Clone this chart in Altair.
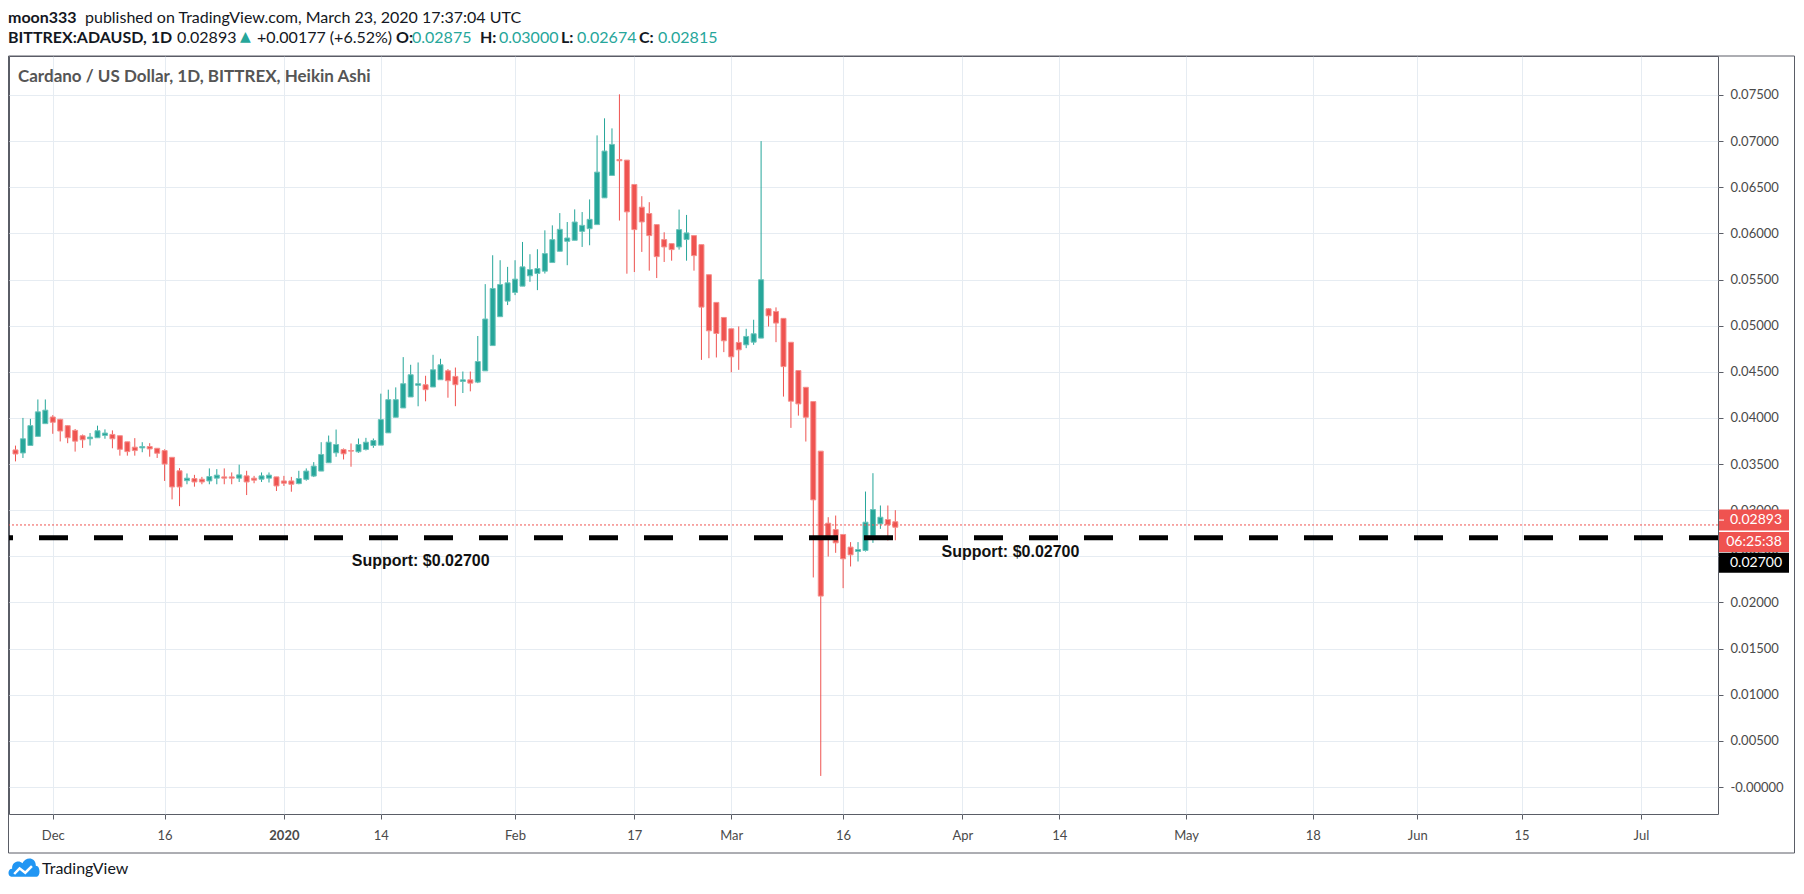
import altair as alt
import pandas as pd

# ---------------- data (Heikin Ashi candles, day 0 = 2019-12-01) ----------------
first_day = -5  # 2019-11-26
opens = [0.03653, 0.03620, 0.03701, 0.03800, 0.03938, 0.04010, 0.03985, 0.03916, 0.03865, 0.03807,
         0.03774, 0.03785, 0.03810, 0.03821, 0.03807, 0.03741, 0.03683, 0.03675, 0.03690, 0.03671,
         0.03646, 0.03573, 0.03427, 0.03320, 0.03343, 0.03336, 0.03317, 0.03347, 0.03361, 0.03361,
         0.03347, 0.03372, 0.03347, 0.03336, 0.03347, 0.03361, 0.03317, 0.03317, 0.03288, 0.03334,
         0.03370, 0.03424, 0.03514, 0.03622, 0.03658, 0.03647, 0.03633, 0.03658, 0.03701, 0.03705,
         0.03838, 0.04007, 0.04108, 0.04227, 0.04353, 0.04360, 0.04335, 0.04414, 0.04511, 0.04450,
         0.04395, 0.04413, 0.04388, 0.04510, 0.04784, 0.05097, 0.05266, 0.05360, 0.05428, 0.05540,
         0.05565, 0.05590, 0.05684, 0.05806, 0.05914, 0.05925, 0.06022, 0.06051, 0.06095, 0.06385,
         0.06628, 0.06801, 0.06794, 0.06530, 0.06284, 0.06215, 0.06095, 0.05933, 0.05889, 0.05853,
         0.05933, 0.05976, 0.05878, 0.05552, 0.05252, 0.05089, 0.04966, 0.04818, 0.04792, 0.04821,
         0.04865, 0.05183, 0.05154, 0.05079, 0.04820, 0.04513, 0.04332, 0.04177, 0.03640, 0.02859,
         0.02791, 0.02737, 0.02600, 0.02552, 0.02563, 0.02718, 0.02852, 0.02899, 0.02875]
highs = [0.03700, 0.04000, 0.03990, 0.04200, 0.04200, 0.04030, 0.03990, 0.03920, 0.03880, 0.03820,
         0.03836, 0.03916, 0.03876, 0.03865, 0.03807, 0.03741, 0.03781, 0.03737, 0.03726, 0.03671,
         0.03660, 0.03573, 0.03456, 0.03398, 0.03383, 0.03361, 0.03453, 0.03445, 0.03453, 0.03409,
         0.03493, 0.03427, 0.03372, 0.03409, 0.03409, 0.03361, 0.03372, 0.03361, 0.03427, 0.03453,
         0.03521, 0.03737, 0.03809, 0.03874, 0.03669, 0.03723, 0.03777, 0.03784, 0.03777, 0.04263,
         0.04306, 0.04331, 0.04659, 0.04576, 0.04601, 0.04457, 0.04684, 0.04641, 0.04529, 0.04546,
         0.04503, 0.04503, 0.04888, 0.05450, 0.05763, 0.05709, 0.05637, 0.05709, 0.05907, 0.05774,
         0.05828, 0.06033, 0.06087, 0.06220, 0.06123, 0.06260, 0.06231, 0.06368, 0.07062, 0.07247,
         0.07138, 0.07507, 0.06794, 0.06530, 0.06403, 0.06338, 0.06095, 0.06012, 0.05889, 0.06258,
         0.06200, 0.05976, 0.05878, 0.05552, 0.05252, 0.05089, 0.04966, 0.04991, 0.04966, 0.05064,
         0.07000, 0.05190, 0.05198, 0.05079, 0.04820, 0.04513, 0.04332, 0.04177, 0.03640, 0.02924,
         0.02942, 0.02737, 0.02654, 0.02654, 0.03202, 0.03401, 0.03051, 0.03051, 0.03000]
lows = [0.03529, 0.03566, 0.03701, 0.03800, 0.03938, 0.03828, 0.03745, 0.03726, 0.03635, 0.03675,
        0.03701, 0.03785, 0.03774, 0.03671, 0.03591, 0.03591, 0.03591, 0.03628, 0.03580, 0.03566,
        0.03317, 0.03117, 0.03044, 0.03281, 0.03255, 0.03281, 0.03281, 0.03281, 0.03281, 0.03281,
        0.03306, 0.03164, 0.03292, 0.03306, 0.03300, 0.03208, 0.03263, 0.03200, 0.03281, 0.03320,
        0.03359, 0.03424, 0.03514, 0.03579, 0.03550, 0.03471, 0.03622, 0.03647, 0.03676, 0.03705,
        0.03838, 0.04007, 0.04108, 0.04227, 0.04126, 0.04180, 0.04335, 0.04414, 0.04219, 0.04127,
        0.04270, 0.04288, 0.04377, 0.04510, 0.04784, 0.05097, 0.05223, 0.05331, 0.05428, 0.05475,
        0.05385, 0.05565, 0.05684, 0.05806, 0.05655, 0.05925, 0.05853, 0.05871, 0.06095, 0.06385,
        0.06628, 0.06139, 0.05563, 0.05581, 0.05799, 0.05596, 0.05516, 0.05690, 0.05704, 0.05824,
        0.05704, 0.05596, 0.04629, 0.04647, 0.04655, 0.04713, 0.04495, 0.04521, 0.04756, 0.04792,
        0.04865, 0.04991, 0.04821, 0.04231, 0.03892, 0.04025, 0.03744, 0.02271, 0.00120, 0.02498,
        0.02538, 0.02155, 0.02390, 0.02444, 0.02552, 0.02646, 0.02798, 0.02672, 0.02674]
closes = [0.03609, 0.03774, 0.03916, 0.04066, 0.04084, 0.03953, 0.03858, 0.03785, 0.03748, 0.03763,
          0.03792, 0.03861, 0.03836, 0.03774, 0.03660, 0.03635, 0.03646, 0.03690, 0.03664, 0.03617,
          0.03500, 0.03252, 0.03252, 0.03347, 0.03306, 0.03306, 0.03365, 0.03380, 0.03347, 0.03347,
          0.03383, 0.03306, 0.03325, 0.03372, 0.03380, 0.03263, 0.03292, 0.03281, 0.03343, 0.03424,
          0.03478, 0.03604, 0.03737, 0.03712, 0.03611, 0.03640, 0.03712, 0.03737, 0.03755, 0.03982,
          0.04198, 0.04198, 0.04371, 0.04468, 0.04371, 0.04306, 0.04522, 0.04576, 0.04403, 0.04360,
          0.04413, 0.04377, 0.04611, 0.05072, 0.05403, 0.05446, 0.05464, 0.05504, 0.05637, 0.05608,
          0.05619, 0.05781, 0.05932, 0.06044, 0.05950, 0.06123, 0.06087, 0.06152, 0.06664, 0.06892,
          0.06964, 0.06787, 0.06233, 0.06041, 0.06124, 0.05976, 0.05748, 0.05853, 0.05824, 0.06041,
          0.06005, 0.05759, 0.05201, 0.04944, 0.04915, 0.04836, 0.04662, 0.04738, 0.04883, 0.04912,
          0.05498, 0.05107, 0.05028, 0.04556, 0.04181, 0.04152, 0.04007, 0.03112, 0.02069, 0.02718,
          0.02646, 0.02473, 0.02516, 0.02574, 0.02870, 0.03007, 0.02924, 0.02841, 0.02815]

tick_days = [0, 15, 31, 44, 62, 78, 91, 106, 122, 135, 152, 169, 183, 197, 213]
tick_labels = ["Dec", "16", "2020", "14", "Feb", "17", "Mar", "16", "Apr", "14", "May", "18", "Jun", "15", "Jul"]
price_ticks = [0.0, 0.005, 0.01, 0.015, 0.02, 0.025, 0.03, 0.035, 0.04, 0.045, 0.05, 0.055, 0.06, 0.065, 0.07, 0.075]

support_level = 0.027
last_price = 0.02893
price_line_level = 0.0284
support_text = "Support: $0.02700"
support_days = [40.1, 119.2]
support_vals = [0.02449, 0.02547]

# ---------------- style ----------------
UP = "#26a69a"
DOWN = "#ef5350"
UP_EDGE = "#6cc4bb"
DOWN_EDGE = "#f58f8c"
GRID = "#e6ecf2"
FRAME = "#5a5d66"
FONT = "Lato"

W, H = 1709, 758

df = pd.DataFrame({
    "day": list(range(first_day, first_day + len(opens))),
    "open": opens, "high": highs, "low": lows, "close": closes,
})
df["dir"] = ["up" if c >= o else "down" for o, c in zip(df["open"], df["close"])]

label_expr = " : ".join(f"datum.value == {d} ? '{l}'" for d, l in zip(tick_days, tick_labels)) + " : ''"

xscale = alt.Scale(domain=[-5.2, 222.667], nice=False, zero=False)
yscale = alt.Scale(domain=[-0.002926, 0.079224], nice=False, zero=False)

xaxis = alt.Axis(values=tick_days, labelExpr=label_expr, title=None, grid=True, gridColor=GRID,
                 domain=False, tickColor=FRAME, tickSize=5, labelPadding=10, labelFont=FONT,
                 labelFontSize=13, labelColor="#4a4a4a", zindex=0,
                 labelFontWeight={"condition": {"test": "datum.value == 31", "value": "bold"}, "value": "normal"})
yaxis = alt.Axis(orient="right", values=price_ticks, title=None, grid=True, gridColor=GRID,
                 domain=False, tickColor=FRAME, tickSize=5, labelPadding=7, labelFont=FONT,
                 labelFontSize=13, labelColor="#4a4a4a", zindex=0,
                 labelExpr="datum.value == 0 ? '-0.00000' : format(datum.value, '.5f')")

color = alt.Color("dir:N", scale=alt.Scale(domain=["up", "down"], range=[UP, DOWN]), legend=None)
edge = alt.Stroke("dir:N", scale=alt.Scale(domain=["up", "down"], range=[UP_EDGE, DOWN_EDGE]), legend=None)

base = alt.Chart(df)
wicks = base.mark_rule(strokeWidth=1, clip=True).encode(
    x=alt.X("day:Q", scale=xscale, axis=xaxis),
    y=alt.Y("low:Q", scale=yscale, axis=yaxis),
    y2="high:Q",
    color=color,
)
bodies = base.mark_bar(size=5, strokeWidth=1, clip=True).encode(
    x="day:Q", y="open:Q", y2="close:Q", color=color, stroke=edge,
)

levels = pd.DataFrame({"v": [support_level], "p": [price_line_level], "lp": [last_price]})
lv = alt.Chart(levels)
price_line = lv.mark_rule(color=DOWN, strokeWidth=1, strokeDash=[2, 2]).encode(y="p:Q")
support_line = lv.mark_rule(color="black", strokeWidth=5, strokeDash=[29, 26]).encode(y="v:Q")

ann = pd.DataFrame({"day": support_days, "val": support_vals, "t": [support_text] * 2})
support_labels = alt.Chart(ann).mark_text(align="left", baseline="middle", font="Liberation Sans",
                                          fontWeight="bold", fontSize=16, color="#111").encode(
    x="day:Q", y="val:Q", text="t:N")

# right-axis price boxes
BX0, BX1 = 1710, 1780
box_price = lv.mark_rect(color=DOWN, yOffset=-10.5, y2Offset=10.5, clip=False).encode(
    x=alt.value(BX0), x2=alt.value(BX1), y="lp:Q", y2="lp:Q")
box_count = lv.mark_rect(color=DOWN, yOffset=12, y2Offset=32, clip=False).encode(
    x=alt.value(BX0), x2=alt.value(BX1), y="lp:Q", y2="lp:Q")
box_support = lv.mark_rect(color="black", yOffset=15, y2Offset=35, clip=False).encode(
    x=alt.value(BX0), x2=alt.value(BX1), y="v:Q", y2="v:Q")
tick_white = lv.mark_rule(color="white", strokeWidth=1).encode(
    x=alt.value(BX0), x2=alt.value(BX0 + 5), y="lp:Q")
txt_price = lv.mark_text(color="white", font=FONT, fontSize=14, align="center", baseline="middle").encode(
    x=alt.value((BX0 + BX1) / 2 + 2), y="lp:Q", text=alt.value(f"{last_price:.5f}"))
txt_count = lv.mark_text(color="white", font=FONT, fontSize=14, align="center", baseline="middle", dy=22).encode(
    x=alt.value((BX0 + BX1) / 2), y="lp:Q", text=alt.value("06:25:38"))
txt_support = lv.mark_text(color="white", font=FONT, fontSize=14, align="center", baseline="middle", dy=25).encode(
    x=alt.value((BX0 + BX1) / 2 + 2), y="v:Q", text=alt.value(f"{support_level:.5f}"))

one = pd.DataFrame({"a": [0]})


def txt(s, x, y, size=16, weight="normal", col="#131722", font=FONT):
    return alt.Chart(one).mark_text(align="left", baseline="middle", font=font, fontSize=size,
                                    fontWeight=weight, color=col, clip=False).encode(
        x=alt.value(x), y=alt.value(y), text=alt.value(s))


L1, L2 = -38, -18
header = [
    txt("moon333", -1, L1, weight="bold"),
    txt("published on TradingView.com, March 23, 2020 17:37:04 UTC", 76, L1),
    txt("BITTREX:ADAUSD, 1D", -1, L2, weight="bold"),
    txt("0.02893", 168, L2),
    txt("▲", 231, L2 - 1, size=14, col=UP, font="DejaVu Sans"),
    txt("+0.00177 (+6.52%)", 248, L2),
    txt("O:", 387, L2, weight="bold"),
    txt("0.02875", 403, L2, col=UP),
    txt("H:", 471, L2, weight="bold"),
    txt("0.03000", 490, L2, col=UP),
    txt("L:", 552, L2, weight="bold"),
    txt("0.02674", 568, L2, col=UP),
    txt("C:", 630, L2, weight="bold"),
    txt("0.02815", 649, L2, col=UP),
    txt("Cardano / US Dollar, 1D, BITTREX, Heikin Ashi", 9, 21, size=17, weight="bold", col="#555"),
    txt("TradingView", 33, 813, size=16, col="#131722"),
]

frame = alt.Chart(one).mark_rect(fill=None, stroke=FRAME, strokeWidth=1, clip=False).encode(
    x=alt.value(-0.5), x2=alt.value(1785.5), y=alt.value(0), y2=alt.value(797))

cloud_path = ("M -0.8 0.55 C -1.05 0.55 -1.05 0.05 -0.75 0.05 C -0.8 -0.35 -0.35 -0.55 -0.1 -0.3 "
              "C 0.1 -0.75 0.75 -0.7 0.75 -0.15 C 1.05 -0.15 1.05 0.55 0.8 0.55 Z")
zig_path = "M -0.62 0.38 L -0.28 0.02 L 0.08 0.3 L 0.5 -0.12"
logo_cloud = alt.Chart(one).mark_point(shape=cloud_path, filled=True, color="#2196f3", size=1000,
                                       opacity=1, clip=False).encode(x=alt.value(15), y=alt.value(812))
logo_zig = alt.Chart(one).mark_point(shape=zig_path, filled=False, color="white", strokeWidth=2.5,
                                     size=1000, opacity=1, clip=False).encode(x=alt.value(15), y=alt.value(812))

chart = alt.layer(
    wicks, bodies, price_line, support_line, support_labels,
    box_price, box_count, box_support, tick_white, txt_price, txt_count, txt_support,
    frame, logo_cloud, logo_zig, *header,
).properties(
    width=W, height=H,
    autosize=alt.AutoSizeParams(type="none"),
    padding={"left": 1, "top": 48, "right": 77, "bottom": 64},
    background="white",
).configure_view(stroke=FRAME, strokeWidth=1)

chart.save("out.html", embed_options={"renderer": "svg", "actions": False})
